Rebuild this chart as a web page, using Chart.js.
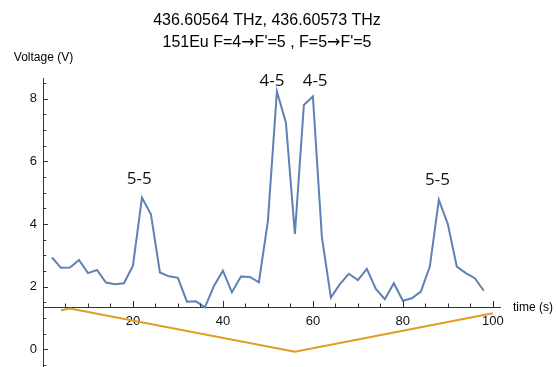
<!DOCTYPE html>
<html>
<head>
<meta charset="utf-8">
<script src="https://cdn.jsdelivr.net/npm/chart.js@4.4.1/dist/chart.umd.min.js"></script>
<style>
  html, body { margin: 0; padding: 0; background: #fff; }
  #wrap { width: 556px; height: 367px; }
</style>
</head>
<body>
<div id="wrap"><canvas id="plot" width="556" height="367"></canvas></div>
<script>
// signal samples (time in s, voltage in V)
const time = [2, 4, 6, 8, 10, 12, 14, 16, 18, 20, 22, 24, 26, 28, 30, 32, 34, 36, 38, 40,
  42, 44, 46, 48, 50, 52, 54, 56, 58, 60, 62, 64, 66, 68, 70, 72, 74, 76, 78, 80,
  82, 84, 86, 88, 90, 92, 94, 96, 98];
const voltage = [2.93, 2.60, 2.61, 2.85, 2.43, 2.53, 2.13, 2.08, 2.11, 2.67, 4.84, 4.31, 2.45, 2.33, 2.28, 1.52, 1.53, 1.34, 2.02, 2.51,
  1.82, 2.32, 2.31, 2.14, 4.10, 8.23, 7.24, 3.68, 7.80, 8.07, 3.59, 1.65, 2.08, 2.41, 2.21, 2.57, 1.93, 1.60, 2.11, 1.55,
  1.63, 1.84, 2.64, 4.77, 4.00, 2.64, 2.43, 2.27, 1.87];

// laser scan ramp
const rampTime = [4, 6, 56, 100];
const rampVoltage = [1.25, 1.30, -0.08, 1.15];

// peak labels
const peakNames = ["5-5", "4-5", "4-5", "5-5"];
const peakTime = [21.4, 50.9, 60.5, 87.7];
const peakVoltage = [5.44, 8.55, 8.55, 5.41];

// ticks
const xTicks = [5, 10, 15, 20, 25, 30, 35, 40, 45, 50, 55, 60, 65, 70, 75, 80, 85, 90, 95, 100];
const xLabels = [20, 40, 60, 80, 100];
const yTicks = [-0.5, 0, 0.5, 1, 1.5, 2, 2.5, 3, 3.5, 4, 4.5, 5, 5.5, 6, 6.5, 7, 7.5, 8, 8.5];
const yLabels = [0, 2, 4, 6, 8];

const titleLine1 = "436.60564 THz, 436.60573 THz";
const titleLine2 = ["151Eu F=4", "\u2192", "F'=5 , F=5", "\u2192", "F'=5"];
const xTitle = "time (s)";
const yTitle = "Voltage (V)";

const axisColor = "#333";
const xAxisAt = 1.35;
const sans = "'Liberation Sans', Arial, sans-serif";

// draws text pieces in a row, arrows in DejaVu so they sit on the mid line
function drawPieces(ctx, pieces, cx, baseline) {
  const fonts = pieces.map(p => p === "\u2192" ? "16px 'DejaVu Sans'" : "16px " + sans);
  const widths = pieces.map((p, i) => { ctx.font = fonts[i]; return ctx.measureText(p).width; });
  let x = cx - widths.reduce((a, b) => a + b, 0) / 2;
  ctx.textAlign = "left";
  pieces.forEach((p, i) => {
    ctx.font = fonts[i];
    ctx.fillText(p, x, baseline);
    x += widths[i];
  });
}

const decor = {
  id: "decor",
  afterDraw(chart) {
    const { ctx, scales: { x, y } } = chart;
    ctx.save();
    ctx.strokeStyle = axisColor;
    ctx.lineWidth = 1;

    // inward tick marks
    const yAxisPx = y.getPixelForValue(xAxisAt);
    x.ticks.forEach(t => {
      const px = Math.round(x.getPixelForValue(t.value)) + 0.5;
      const len = xLabels.includes(t.value) ? 6 : 3.5;
      ctx.beginPath();
      ctx.moveTo(px, yAxisPx);
      ctx.lineTo(px, yAxisPx - len);
      ctx.stroke();
    });
    const xAxisPx = x.getPixelForValue(0);
    y.ticks.forEach(t => {
      const py = Math.round(y.getPixelForValue(t.value)) + 0.5;
      const len = yLabels.includes(t.value) ? 5 : 3.3;
      ctx.beginPath();
      ctx.moveTo(xAxisPx, py);
      ctx.lineTo(xAxisPx + len, py);
      ctx.stroke();
    });

    // peak labels
    ctx.fillStyle = "#111";
    ctx.textAlign = "center";
    ctx.textBaseline = "middle";
    ctx.font = "17px 'Open Sans'";
    peakNames.forEach((name, i) => {
      ctx.fillText(name, x.getPixelForValue(peakTime[i]), y.getPixelForValue(peakVoltage[i]));
    });

    // titles
    ctx.fillStyle = "#000";
    ctx.font = "16px " + sans;
    ctx.textBaseline = "alphabetic";
    ctx.fillText(titleLine1, 267, 25);
    drawPieces(ctx, titleLine2, 267, 47);

    ctx.font = "12px " + sans;
    ctx.textAlign = "center";
    ctx.textBaseline = "middle";
    ctx.fillText(yTitle, xAxisPx + 0.5, chart.chartArea.top - 20);
    ctx.textAlign = "left";
    ctx.fillText(xTitle, chart.chartArea.right + 13, yAxisPx + 1);
    ctx.restore();
  }
};

new Chart(document.getElementById("plot"), {
  type: "scatter",
  data: {
    datasets: [
      {
        data: time.map((t, i) => ({ x: t, y: voltage[i] })),
        showLine: true,
        borderColor: "#5E81B5",
        borderWidth: 2,
        pointRadius: 0,
        tension: 0
      },
      {
        data: rampTime.map((t, i) => ({ x: t, y: rampVoltage[i] })),
        showLine: true,
        borderColor: "#E19C24",
        borderWidth: 2,
        pointRadius: 0,
        tension: 0
      }
    ]
  },
  options: {
    responsive: false,
    animation: false,
    layout: { padding: { top: 78, right: 56, bottom: 0, left: 0 } },
    plugins: {
      legend: { display: false },
      tooltip: { enabled: false }
    },
    scales: {
      x: {
        type: "linear",
        min: 0,
        max: 101.6,
        position: { y: xAxisAt },
        afterFit(scale) {
          scale.height = 0;
          scale.paddingLeft = 0;
          scale.paddingRight = 0;
        },
        afterBuildTicks(scale) { scale.ticks = xTicks.map(v => ({ value: v })); },
        grid: { display: false, drawTicks: false },
        border: { display: true, color: axisColor, width: 1 },
        ticks: {
          autoSkip: false,
          maxRotation: 0,
          padding: 7,
          color: "#111",
          font: { family: sans, size: 13 },
          callback: v => xLabels.includes(v) ? String(v) : ""
        }
      },
      y: {
        type: "linear",
        min: -0.565,
        max: 8.66,
        position: "left",
        afterFit(scale) {
          scale.width = 43;
          scale.paddingTop = 0;
          scale.paddingBottom = 0;
        },
        afterBuildTicks(scale) { scale.ticks = yTicks.map(v => ({ value: v })); },
        grid: { display: false, drawTicks: false },
        border: { display: true, color: axisColor, width: 1 },
        ticks: {
          autoSkip: false,
          padding: 6,
          color: "#111",
          font: { family: sans, size: 13 },
          callback: v => yLabels.includes(v) ? String(v) : ""
        }
      }
    }
  },
  plugins: [decor]
});
</script>
</body>
</html>
